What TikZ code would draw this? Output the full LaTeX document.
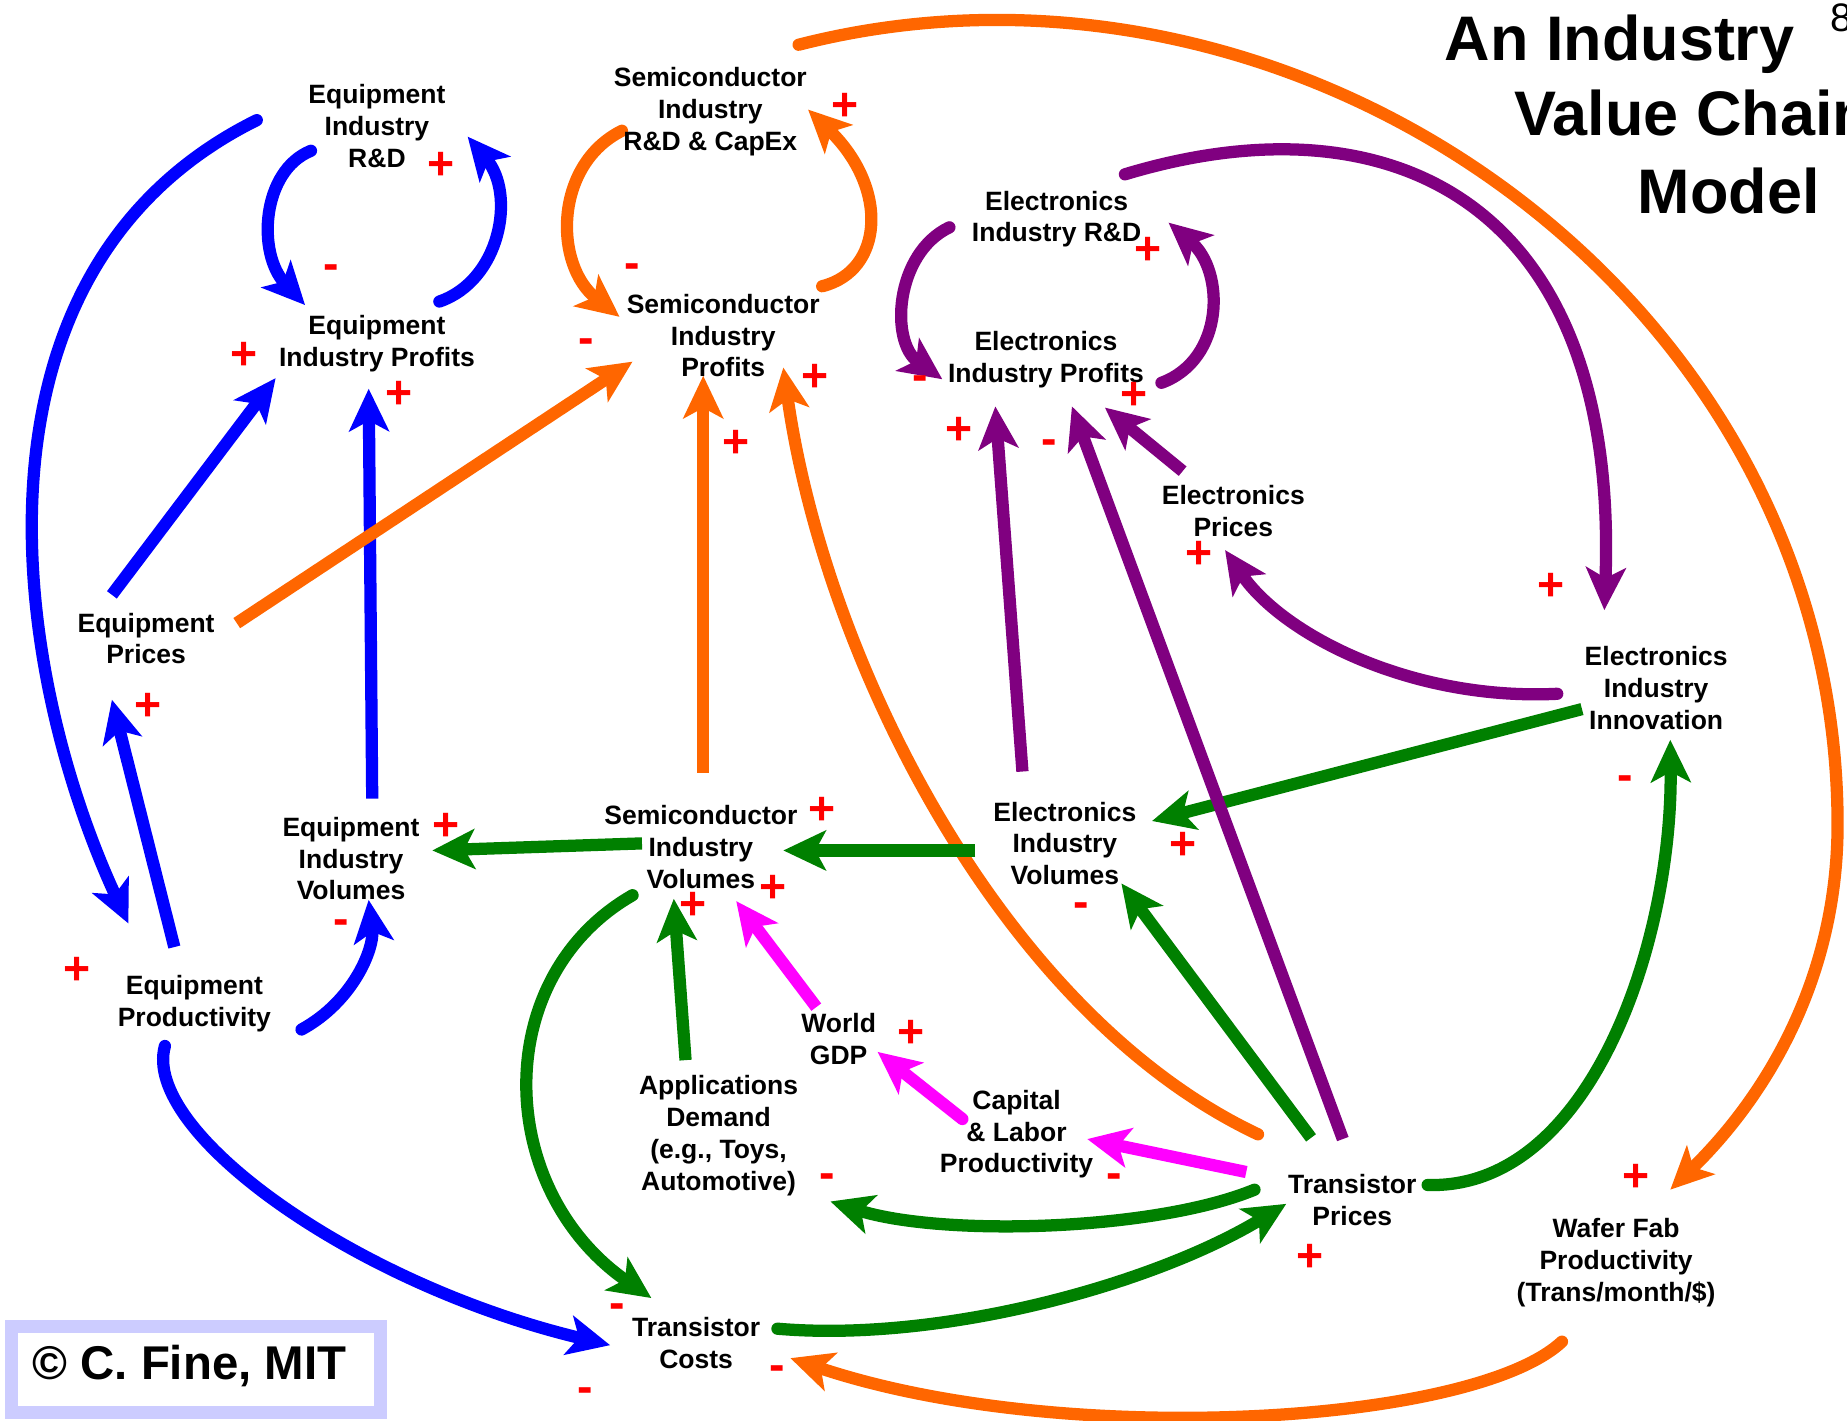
\documentclass[tikz,border=0pt]{standalone}
\usepackage{fontspec}
\setmainfont{Liberation Sans}
\usetikzlibrary{arrows.meta}
\definecolor{cblue}{RGB}{0,0,255}
\definecolor{corange}{RGB}{255,102,0}
\definecolor{cpurple}{RGB}{128,0,128}
\definecolor{cgreen}{RGB}{0,128,0}
\definecolor{cmag}{RGB}{255,0,255}
\definecolor{cred}{RGB}{255,0,0}
\definecolor{cbox}{RGB}{204,204,255}
\begin{document}
\begin{tikzpicture}[x=0.0125cm,y=-0.0125cm,
  lbl/.style={font=\fontsize{8}{9.6}\selectfont\bfseries, align=center, inner sep=0pt},
  sgn/.style={font=\fontsize{14}{14}\selectfont\bfseries, text=cred, inner sep=0pt},
  link/.style={line width=3.7pt, -{Stealth[length=0.45cm,width=0.42cm,inset=0.11cm]}},
  bentlink/.style={link, line cap=round},
  ttl/.style={font=\fontsize{19}{22}\selectfont\bfseries, anchor=base west, inner sep=0pt}
]
\useasboundingbox (0,0) rectangle (1568,1206);
\clip (0,0) rectangle (1568,1206);

% ---------- connector end points ----------
\coordinate (b1s) at (264,128);  \coordinate (b1e) at (259,259);
\coordinate (b2s) at (373,256);  \coordinate (b2e) at (397,116);
\coordinate (b3s) at (95,505);   \coordinate (b3e) at (234,321);
\coordinate (b4s) at (316,678);  \coordinate (b4e) at (313,330);
\coordinate (b5s) at (218,102);  \coordinate (b5e) at (109,784);
\coordinate (b6s) at (148,804);  \coordinate (b6e) at (95,594);
\coordinate (b7s) at (256,874);  \coordinate (b7e) at (313,764);
\coordinate (b8s) at (140,888);  \coordinate (b8e) at (518,1142);

\coordinate (o1s) at (528,111);  \coordinate (o1e) at (526,269);
\coordinate (o2s) at (698,243);  \coordinate (o2e) at (686,93);
\coordinate (o3s) at (201,529);  \coordinate (o3e) at (537,307);
\coordinate (o4s) at (597,656);  \coordinate (o4e) at (597,319);
\coordinate (o5s) at (1068,963); \coordinate (o5e) at (665,312);
\coordinate (o6s) at (1326,1139);\coordinate (o6e) at (671,1153);
\coordinate (o7s) at (678,38);   \coordinate (o7m) at (1560,700); \coordinate (o7e) at (1418,1010);

\coordinate (g1s) at (545,716);  \coordinate (g1e) at (367,722);
\coordinate (g2s) at (828,722);  \coordinate (g2e) at (665,722);
\coordinate (g3s) at (1343,602); \coordinate (g3e) at (978,697);
\coordinate (g4s) at (582,900);  \coordinate (g4e) at (572,763);
\coordinate (g5s) at (537,760);  \coordinate (g5e) at (553,1102);
\coordinate (g6s) at (1113,966); \coordinate (g6e) at (952,750);
\coordinate (g7s) at (1065,1010);\coordinate (g7e) at (705,1020);
\coordinate (g8s) at (660,1128); \coordinate (g8e) at (1092,1022);
\coordinate (g9s) at (1212,1006);\coordinate (g9e) at (1418,628);

\coordinate (p1s) at (806,193);  \coordinate (p1e) at (800,322);
\coordinate (p2s) at (986,325);  \coordinate (p2e) at (992,189);
\coordinate (p3s) at (868,655);  \coordinate (p3e) at (845,345);
\coordinate (p4s) at (1140,967); \coordinate (p4e) at (910,345);
\coordinate (p5s) at (1004,400); \coordinate (p5e) at (938,346);
\coordinate (p6s) at (1322,589); \coordinate (p6e) at (1040,467);
\coordinate (p7s) at (955,148);  \coordinate (p7e) at (1362,518);

\coordinate (m1s) at (693,855);  \coordinate (m1e) at (625,765);
\coordinate (m2s) at (817,950);  \coordinate (m2e) at (745,893);
\coordinate (m3s) at (1058,995); \coordinate (m3e) at (923,967);

% ---------- blue ----------
\draw[bentlink, cblue] (b1s) .. controls (222,145) and (218,215) .. (b1e);
\draw[bentlink, cblue] (b2s) .. controls (425,238) and (438,165) .. (b2e);
\draw[link, cblue] (b3s) -- (b3e);
\draw[link, cblue] (b4s) -- (b4e);
\draw[bentlink, cblue] (b5s) .. controls (-40,230) and (10,570) .. (b5e);
\draw[link, cblue] (b6s) -- (b6e);
\draw[bentlink, cblue] (b7s) .. controls (300,850) and (318,805) .. (b7e);
\draw[bentlink, cblue] (b8s) .. controls (120,960) and (300,1090) .. (b8e);

% ---------- orange ----------
\draw[bentlink, corange] (o1s) .. controls (470,140) and (470,225) .. (o1e);
\draw[bentlink, corange] (o2s) .. controls (750,230) and (755,160) .. (o2e);
\draw[link, corange] (o3s) -- (o3e);
\draw[link, corange] (o4s) -- (o4e);
\draw[bentlink, corange] (o5s) .. controls (850,860) and (700,560) .. (o5e);
\draw[bentlink, corange] (o6s) .. controls (1250,1210) and (900,1230) .. (o6e);
\draw[bentlink, corange] (o7s) .. controls (1100,-70) and (1560,250) .. (o7m)
   .. controls (1560,830) and (1500,930) .. (o7e);

% ---------- green ----------
\draw[link, cgreen] (g1s) -- (g1e);
\draw[link, cgreen] (g2s) -- (g2e);
\draw[link, cgreen] (g3s) -- (g3e);
\draw[link, cgreen] (g4s) -- (g4e);
\draw[bentlink, cgreen] (g5s) .. controls (415,830) and (420,1010) .. (g5e);
\draw[link, cgreen] (g6s) -- (g6e);
\draw[bentlink, cgreen] (g7s) .. controls (980,1045) and (800,1050) .. (g7e);
\draw[bentlink, cgreen] (g8s) .. controls (800,1140) and (980,1090) .. (g8e);
\draw[bentlink, cgreen] (g9s) .. controls (1350,1010) and (1420,800) .. (g9e);

% ---------- purple ----------
\draw[bentlink, cpurple] (p1s) .. controls (760,215) and (755,290) .. (p1e);
\draw[bentlink, cpurple] (p2s) .. controls (1040,305) and (1040,230) .. (p2e);
\draw[link, cpurple] (p3s) -- (p3e);
\draw[link, cpurple] (p4s) -- (p4e);
\draw[link, cpurple] (p5s) -- (p5e);
\draw[bentlink, cpurple] (p6s) .. controls (1200,595) and (1090,540) .. (p6e);
\draw[bentlink, cpurple] (p7s) .. controls (1180,80) and (1375,170) .. (p7e);

% ---------- magenta ----------
\draw[link, cmag] (m1s) -- (m1e);
\draw[bentlink, cmag] (m2s) -- (m2e);
\draw[link, cmag] (m3s) -- (m3e);

% ---------- variables ----------
\node[lbl] (eqrd)   at (320,107)  {Equipment\\Industry\\R\&D};
\node[lbl] (eqprof) at (320,292)  {Equipment\\Industry Profits};
\node[lbl] (scrd)   at (603,95)   {Semiconductor\\Industry\\R\&D \& CapEx};
\node[lbl] (scprof) at (614,285)  {Semiconductor\\Industry\\Profits};
\node[lbl] (elrd)   at (897,186)  {Electronics\\Industry R\&D};
\node[lbl] (elprof) at (888,305)  {Electronics\\Industry Profits};
\node[lbl] (elpr)   at (1047,434) {Electronics\\Prices};
\node[lbl] (eqpr)   at (124,542)  {Equipment\\Prices};
\node[lbl] (elinn)  at (1406,584) {Electronics\\Industry\\Innovation};
\node[lbl] (eqvol)  at (298,729)  {Equipment\\Industry\\Volumes};
\node[lbl] (scvol)  at (595,719)  {Semiconductor\\Industry\\Volumes};
\node[lbl] (elvol)  at (904,716)  {Electronics\\Industry\\Volumes};
\node[lbl] (eqprod) at (165,852)  {Equipment\\Productivity};
\node[lbl] (gdp)    at (712,882)  {World\\GDP};
\node[lbl] (app)    at (610,964)  {Applications\\Demand\\(e.g., Toys,\\Automotive)};
\node[lbl] (cap)    at (863,963)  {Capital\\\& Labor\\Productivity};
\node[lbl] (tp)     at (1148,1019){Transistor\\Prices};
\node[lbl] (wafer)  at (1372,1072){Wafer Fab\\Productivity\\(Trans/month/\$)};
\node[lbl] (tc)     at (591,1140) {Transistor\\Costs};

% ---------- title ----------
\node[ttl] (t1) at (1226,51) {An Industry};
\node[ttl] (t2) at (1285,115) {Value Chain};
\node[ttl] (t3) at (1390,181) {Model};
\node[font=\fontsize{12}{12}\selectfont, anchor=base west, inner sep=0pt] (pg) at (1553,27) {8};

% ---------- copyright ----------
\node[draw=cbox, line width=0.1375cm, minimum width=3.9125cm, minimum height=0.9125cm, inner sep=0pt] (cbx) at (166.5,1162.5) {};
\node[font=\fontsize{14.3}{16}\selectfont\bfseries, anchor=base west, inner sep=0pt] (copy) at (27,1171) {© C. Fine, MIT};

% ---------- polarity signs ----------
\node[sgn] (s1)  at (374,141)  {+};
\node[sgn] (s2)  at (281,231)  {-};
\node[sgn] (s3)  at (207,302)  {+};
\node[sgn] (s4)  at (339,335)  {+};
\node[sgn] (s5)  at (717,91)   {+};
\node[sgn] (s6)  at (537,230)  {-};
\node[sgn] (s7)  at (498,294)  {-};
\node[sgn] (s8)  at (692,321)  {+};
\node[sgn] (s9)  at (625,377)  {+};
\node[sgn] (s10) at (975,213)  {+};
\node[sgn] (s11) at (781,325)  {-};
\node[sgn] (s12) at (963,336)  {+};
\node[sgn] (s13) at (814,366)  {+};
\node[sgn] (s14) at (891,380)  {-};
\node[sgn] (s15) at (1018,471) {+};
\node[sgn] (s16) at (1317,498) {+};
\node[sgn] (s17) at (126,600)  {+};
\node[sgn] (s18) at (379,702)  {+};
\node[sgn] (s19) at (698,688)  {+};
\node[sgn] (s20) at (656,755)  {+};
\node[sgn] (s21) at (588,769)  {+};
\node[sgn] (s22) at (1004,718) {+};
\node[sgn] (s23) at (918,773)  {-};
\node[sgn] (s24) at (1380,665) {-};
\node[sgn] (s25) at (290,787)  {-};
\node[sgn] (s26) at (65,824)   {+};
\node[sgn] (s27) at (773,878)  {+};
\node[sgn] (s28) at (702,1003) {-};
\node[sgn] (s29) at (946,1003) {-};
\node[sgn] (s30) at (1389,1000){+};
\node[sgn] (s31) at (1112,1068){+};
\node[sgn] (s32) at (524,1113) {-};
\node[sgn] (s33) at (660,1166) {-};
\node[sgn] (s34) at (497,1184) {-};
\end{tikzpicture}
\end{document}
